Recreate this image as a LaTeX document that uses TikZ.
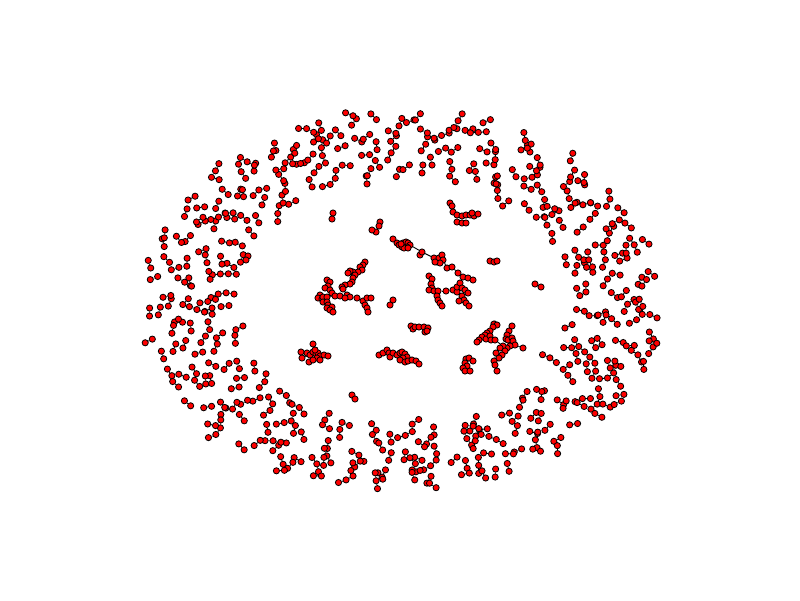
\documentclass[tikz,border=0pt]{standalone}
\pgfdeclarelayer{bg}
\pgfsetlayers{bg,main}
\tikzset{
  vtx/.style={circle,draw=black,fill=red,inner sep=0pt,minimum size=6.2pt,line width=0.8pt},
  edg/.style={draw=black,line width=0.9pt}
}
\gdef\alledges{cA1/cA2}
\newcommand\mkcluster[3]{%
  \foreach \x/\y [count=\j] in {#2} {\node[vtx] (#1\j) at (\x,\y) {};}
  \foreach \u/\v in {#3} {\xdef\alledges{\alledges,#1\u/#1\v}}}
\begin{document}
\begin{tikzpicture}[x=1pt,y=-1pt]
\useasboundingbox (0,0) rectangle (800,600);
% ring of small components (evenly spread, jittered)
\pgfmathsetseed{4711}
\foreach \i in {1,...,335}{
  \pgfmathsetmacro\th{360*mod(\i*0.618034,1)+6*rnd-3}
  \pgfmathsetmacro\rr{sqrt(0.43+0.57*(\i-0.5)/335)}
  \pgfmathsetmacro\cx{402+258*\rr*cos(\th)+8*rnd-4}
  \pgfmathsetmacro\cy{301+190*\rr*sin(\th)+8*rnd-4}
  \pgfmathsetmacro\ph{360*rnd}
  \pgfmathsetmacro\bb{70*rnd-35}
  \pgfmathsetmacro\kk{rnd}
  \pgfmathsetmacro\ax{\cx+4*cos(\ph)}
  \pgfmathsetmacro\ay{\cy+4*sin(\ph)}
  \pgfmathsetmacro\bx{\cx-4*cos(\ph)}
  \pgfmathsetmacro\by{\cy-4*sin(\ph)}
  \pgfmathsetmacro\ccx{\bx-8*cos(\ph+\bb)}
  \pgfmathsetmacro\ccy{\by-8*sin(\ph+\bb)}
  \pgfmathsetmacro\dx{\ccx-8*cos(\ph+2*\bb)}
  \pgfmathsetmacro\dy{\ccy-8*sin(\ph+2*\bb)}
  \node[vtx] (r\i-a) at (\ax,\ay) {};
  \node[vtx] (r\i-b) at (\bx,\by) {};
  \xdef\alledges{\alledges,r\i-a/r\i-b}
  \ifdim \kk pt<0.2pt
    \node[vtx] (r\i-c) at (\ccx,\ccy) {};
    \xdef\alledges{\alledges,r\i-b/r\i-c}
  \fi
  \ifdim \kk pt<0.06pt
    \node[vtx] (r\i-d) at (\dx,\dy) {};
    \xdef\alledges{\alledges,r\i-c/r\i-d}
  \fi
}
% central components
\mkcluster{cA}{333/213,332/219}{1/2}
\mkcluster{cB}{380/222,379/226,376/232,372/230}{1/2,2/3,3/4}
\mkcluster{cC}{393/239,397/243,399/245,402/247,403/243,406/242,408/243,410/245,407/247,404/248,408/248,401/244,
  420/255,422/252,434/258,437/262,439/258,442/255,443/260,440/263,435/262,447/268,452/267,458/273,463/277,468/278,473/280}
  {1/2,2/12,12/3,3/4,12/5,5/6,6/7,7/8,8/9,9/10,9/11,8/14,14/13,14/15,15/16,16/17,17/18,16/19,19/20,15/21,19/22,22/23,23/24,24/25,25/26,25/27}
\mkcluster{cD}{450/203,452/206,453/212,457/215,462/216,466/215,470/215,474/216,478/214,472/213,457/222,462/223,466/223}
  {1/2,2/3,3/4,4/5,5/6,6/7,7/8,8/9,7/10,4/11,11/12,12/13}
\mkcluster{cE}{490/261,494/262,497/261}{1/2,2/3}
\mkcluster{cF}{429/276,432/279,431/284,432/288,429/290,434/291,438/291,437/296,438/300,440/303,442/306,446/291,453/290,457/292,457/287,460/283,462/288,465/290,468/293,462/296,464/300,466/303,469/306,459/301}
  {1/2,2/3,3/4,4/5,4/6,6/7,6/8,8/9,9/10,10/11,7/12,12/13,13/14,14/15,15/16,14/17,17/18,18/19,14/20,20/21,21/22,22/23,20/24}
\mkcluster{cG}{393/300,390/305}{1/2}
\mkcluster{cH}{365/262,363/265,360/267,362/270,358/272,353/272,350/271,348/273,355/275,353/278,352/282,350/284,345/285,342/287,343/289,
  327/280,330/282,328/286,325/288,330/290,332/293,320/295,318/298,322/299,323/297,327/297,335/296,340/296,347/295,350/297,345/298,357/298,363/301,367/298,371/298,365/305,367/308,368/312,
  323/302,327/302,328/305,332/307,327/308,330/310,333/312}
  {1/2,2/3,3/4,4/5,5/6,6/7,7/8,5/9,9/10,10/11,11/12,12/13,13/14,14/15,
   16/17,17/18,18/19,19/20,20/21,21/26,22/23,23/24,24/25,25/26,26/27,27/28,28/29,29/30,29/31,30/32,32/33,33/34,34/35,33/36,36/37,37/38,
   26/39,39/40,40/41,41/42,42/43,43/44,44/45,15/29}
\mkcluster{cI}{313/344,301/352,302/358,309/362,307/353,310/355,313/352,316/354,318/353,320/356,324/355,328/356,317/358,313/360,320/360,315/350}
  {1/16,16/7,2/5,5/6,3/6,4/14,14/6,6/7,7/8,8/9,9/10,10/11,11/12,10/13,13/15,8/16}
\mkcluster{cJ}{379/355,383/353,387/350,389/353,390/357,393/353,397/355,400/353,402/352,405/354,407/357,403/358,400/360,405/362,408/361,412/360,416/361,419/364}
  {1/2,2/3,3/4,4/5,4/6,6/7,7/8,8/9,9/10,10/11,11/12,12/13,12/14,14/15,15/16,16/17,17/18}
\mkcluster{cK}{411/326,413/329,415/327,419/327,424/327,425/332,428/328,427/331}{1/2,2/3,3/4,4/5,5/6,5/7,7/8}
\mkcluster{cL}{494/324,497/325,493/327,490/331,487/333,485/335,482/337,479/340,477/342,486/339,490/336,491/340,495/340,
  512/326,509/331,507/335,506/339,508/340,512/338,513/341,515/345,510/346,507/348,503/346,500/348,505/351,502/355,499/358,523/348,496/353,494/361,495/365,497/371}
  {1/2,1/3,3/4,4/5,5/6,6/7,7/8,8/9,6/10,10/11,11/12,12/13,13/24,14/15,15/16,16/17,17/18,18/19,19/20,20/21,21/22,22/23,23/24,24/25,23/26,26/27,27/28,21/29,25/30,30/31,31/32,32/33}
\mkcluster{cM}{466/359,469/358,473/361,465/363,467/366,463/368,465/371,470/371}{1/2,2/3,1/4,4/5,5/6,6/7,7/8}
\mkcluster{cN}{535/284,541/287}{1/2}
\mkcluster{cO}{352/395,355/399}{1/2}
\mkcluster{cP}{248/256,246/260}{1/2}
% all connectors, behind the vertices
\begin{pgfonlayer}{bg}
  \foreach \u/\v in \alledges {\draw[edg] (\u) -- (\v);}
\end{pgfonlayer}
\end{tikzpicture}
\end{document}
